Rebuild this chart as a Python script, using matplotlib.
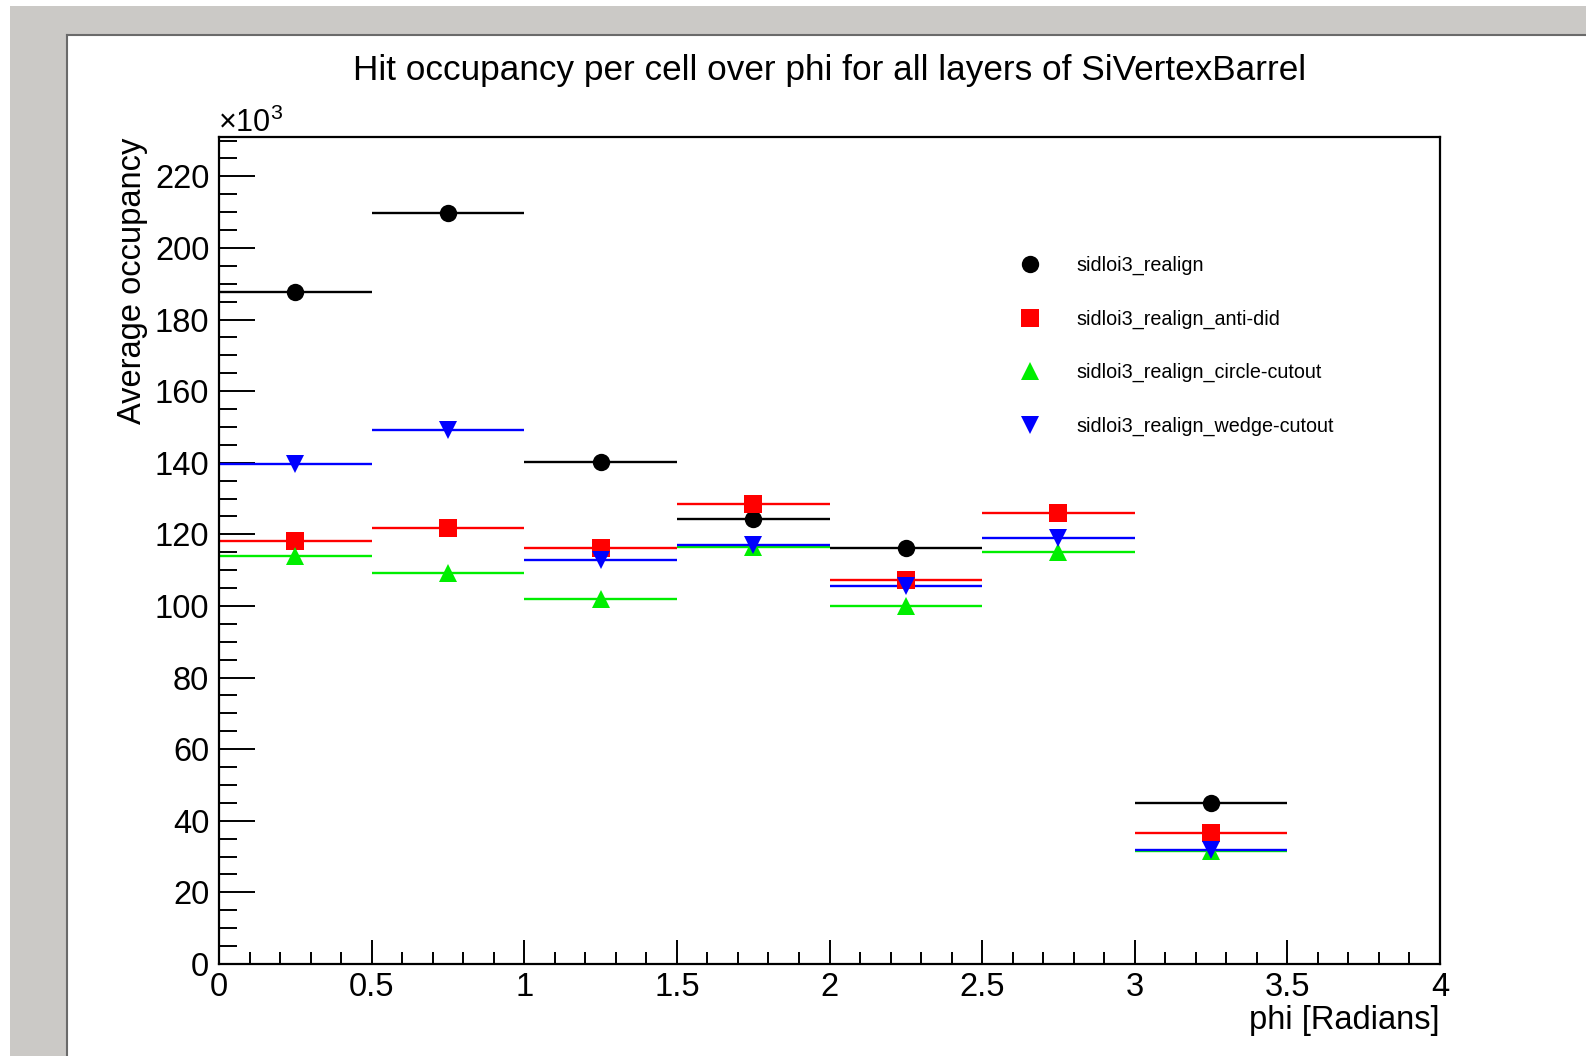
import numpy as np
import matplotlib
matplotlib.use('Agg')
import matplotlib.pyplot as plt
from matplotlib.lines import Line2D
from matplotlib.patches import Rectangle
from matplotlib.ticker import MultipleLocator

plt.rcParams['font.family'] = ['Liberation Sans', 'DejaVu Sans']
plt.rcParams['mathtext.fontset'] = 'custom'
plt.rcParams['mathtext.rm'] = 'Liberation Sans'
plt.rcParams['mathtext.it'] = 'Liberation Sans:italic'

# phi bins (centres, half width) and average occupancy in units of 10^3
phi_centres = [0.25, 0.75, 1.25, 1.75, 2.25, 2.75, 3.25]
half_width = 0.25
realign = [187.7, 209.9, 140.2, 124.3, 116.2, np.nan, 44.9]
anti_did = [118.1, 121.9, 116.3, 128.4, 107.3, 126.1, 36.7]
circle_cutout = [114.1, 109.1, 102.0, 116.6, 100.0, 115.0, 31.6]
wedge_cutout = [139.7, 149.1, 112.8, 117.1, 105.5, 119.1, 31.9]

labels = ['sidloi3_realign', 'sidloi3_realign_anti-did',
          'sidloi3_realign_circle-cutout', 'sidloi3_realign_wedge-cutout']
series = [realign, anti_did, circle_cutout, wedge_cutout]
colors = ['black', '#ff0000', '#00ee00', '#0000ff']
markers = ['o', 's', '^', 'v']

W, H = 1586, 1056
fig = plt.figure(figsize=(W / 100, H / 100), dpi=100, facecolor='white')

# ROOT canvas look: grey window frame and white pad
fig.patches.append(Rectangle((10 / W, 0), 1, 1 - 6 / H, transform=fig.transFigure,
                             facecolor='#cbc9c6', edgecolor='none', zorder=-3))
fig.patches.append(Rectangle((67 / W, 0), 1, 1 - 35 / H, transform=fig.transFigure,
                             facecolor='white', edgecolor='none', zorder=-2))
fig.lines.append(Line2D([67 / W, 1], [1 - 35 / H, 1 - 35 / H], transform=fig.transFigure,
                        color='#6a6a6a', lw=1.5, zorder=-1))
fig.lines.append(Line2D([67 / W, 67 / W], [0, 1 - 35 / H], transform=fig.transFigure,
                        color='#6a6a6a', lw=1.5, zorder=-1))

ax = fig.add_axes([219 / W, 92 / H, (1440 - 219) / W, (964 - 137) / H])
ax.set_facecolor('none')

for vals, c, m in zip(series, colors, markers):
    ax.errorbar(phi_centres, vals, xerr=half_width, fmt=m, color=c, ms=12.5,
                elinewidth=1.7, capsize=0, mew=0)

ax.set_xlim(0, 4)
ax.set_ylim(0, 231)

for s in ['left', 'bottom', 'top', 'right']:
    ax.spines[s].set_linewidth(1.6)

ax.xaxis.set_major_locator(MultipleLocator(0.5))
ax.xaxis.set_minor_locator(MultipleLocator(0.1))
ax.yaxis.set_major_locator(MultipleLocator(20))
ax.yaxis.set_minor_locator(MultipleLocator(5))
ax.xaxis.set_major_formatter(plt.FuncFormatter(lambda v, p: f'{v:g}'))
ax.tick_params(axis='x', which='major', direction='in', length=17, width=1.4,
               labelsize=23.5, pad=6, top=False)
ax.tick_params(axis='x', which='minor', direction='in', length=8.5, width=1.4, top=False)
ax.tick_params(axis='y', which='major', direction='in', length=26, width=1.4,
               labelsize=23.5, pad=7, right=False)
ax.tick_params(axis='y', which='minor', direction='in', length=13, width=1.4, right=False)

fig.text(830 / W, 1 - 80 / H, 'Hit occupancy per cell over phi for all layers of SiVertexBarrel',
         ha='center', va='baseline', fontsize=25.3)
fig.text(218 / W, 1 - 132 / H, r'$\times10^{3}$', ha='left', va='baseline', fontsize=22)
fig.text(148 / W, 1 - 138 / H, 'Average occupancy', rotation=90, ha='right', va='top',
         fontsize=23.5)
fig.text(1440 / W, 1 - 1029 / H, 'phi [Radians]', ha='right', va='baseline', fontsize=23.5)

handles = [Line2D([], [], ls='none', marker=m, color=c, ms=12.5, mew=0)
           for c, m in zip(colors, markers)]
ax.legend(handles, labels, loc='center left', bbox_to_anchor=(1020 / W, 1 - 346 / H),
          bbox_transform=fig.transFigure, frameon=False, fontsize=14.2,
          handlelength=1.0, handletextpad=1.85, labelspacing=1.74,
          borderpad=0, borderaxespad=0)

plt.savefig('out.png', dpi=100)
